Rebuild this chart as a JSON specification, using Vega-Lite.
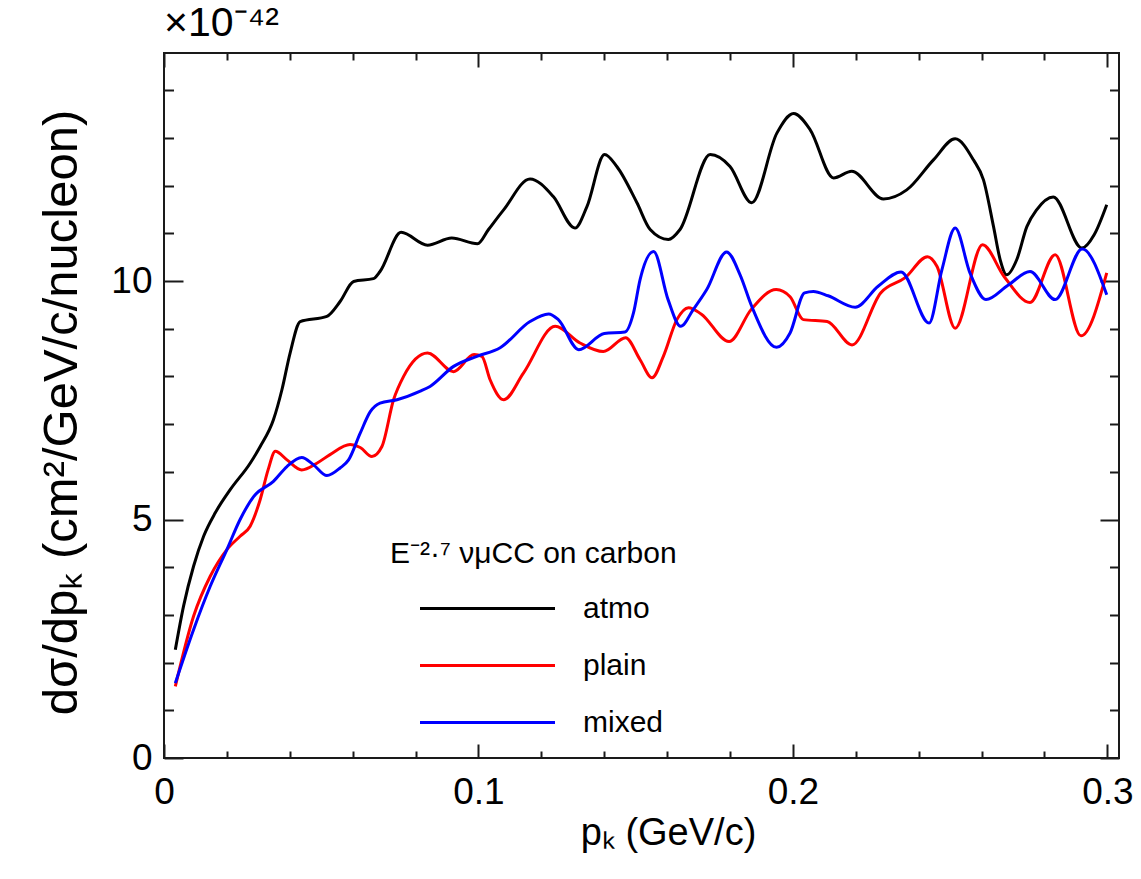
{
"$schema": "https://vega.github.io/schema/vega-lite/v6.json",
"autosize": "none",
"width": 955,
"height": 705,
"padding": {"left": 164, "top": 53, "right": 22, "bottom": 121},
"background": "white",
"config": {
  "font": "Liberation Sans",
  "view": {"stroke": "#1a1a1a", "strokeWidth": 2},
  "axis": {"grid": false, "domain": false, "tickColor": "#1a1a1a", "tickWidth": 2, "labelColor": "#000", "titleColor": "#000", "titleFontWeight": "normal", "labelFlush": false, "labelOverlap": false}
},
"title": {"text": "×10⁻⁴²", "anchor": "start", "frame": "group", "fontSize": 41, "fontWeight": "normal", "offset": 7, "color": "#000"},
"data": {"values": [
{"s":"atmo","p":0.0036,"v":2.27},{"s":"atmo","p":0.0062,"v":3.18},{"s":"atmo","p":0.0094,"v":4.02},{"s":"atmo","p":0.0126,"v":4.65},{"s":"atmo","p":0.0163,"v":5.14},{"s":"atmo","p":0.0210,"v":5.62},{"s":"atmo","p":0.0274,"v":6.18},{"s":"atmo","p":0.0306,"v":6.53},{"s":"atmo","p":0.0348,"v":7.09},{"s":"atmo","p":0.0375,"v":7.72},{"s":"atmo","p":0.0401,"v":8.49},{"s":"atmo","p":0.0433,"v":9.15},{"s":"atmo","p":0.0518,"v":9.26},{"s":"atmo","p":0.0560,"v":9.57},{"s":"atmo","p":0.0603,"v":9.99},{"s":"atmo","p":0.0666,"v":10.05},{"s":"atmo","p":0.0687,"v":10.20},{"s":"atmo","p":0.0754,"v":11.02},{"s":"atmo","p":0.0838,"v":10.75},{"s":"atmo","p":0.0915,"v":10.90},{"s":"atmo","p":0.0997,"v":10.78},{"s":"atmo","p":0.1032,"v":11.08},{"s":"atmo","p":0.1080,"v":11.49},{"s":"atmo","p":0.1164,"v":12.14},{"s":"atmo","p":0.1238,"v":11.77},{"s":"atmo","p":0.1307,"v":11.11},{"s":"atmo","p":0.1345,"v":11.56},{"s":"atmo","p":0.1401,"v":12.65},{"s":"atmo","p":0.1440,"v":12.40},{"s":"atmo","p":0.1504,"v":11.64},{"s":"atmo","p":0.1546,"v":11.08},{"s":"atmo","p":0.1604,"v":10.87},{"s":"atmo","p":0.1641,"v":11.08},{"s":"atmo","p":0.1737,"v":12.65},{"s":"atmo","p":0.1800,"v":12.40},{"s":"atmo","p":0.1869,"v":11.64},{"s":"atmo","p":0.1949,"v":13.10},{"s":"atmo","p":0.2002,"v":13.51},{"s":"atmo","p":0.2055,"v":13.17},{"s":"atmo","p":0.2129,"v":12.16},{"s":"atmo","p":0.2187,"v":12.30},{"s":"atmo","p":0.2288,"v":11.72},{"s":"atmo","p":0.2362,"v":11.91},{"s":"atmo","p":0.2447,"v":12.54},{"s":"atmo","p":0.2516,"v":12.98},{"s":"atmo","p":0.2574,"v":12.54},{"s":"atmo","p":0.2606,"v":12.12},{"s":"atmo","p":0.2638,"v":11.14},{"s":"atmo","p":0.2659,"v":10.45},{"s":"atmo","p":0.2680,"v":10.13},{"s":"atmo","p":0.2712,"v":10.45},{"s":"atmo","p":0.2744,"v":11.14},{"s":"atmo","p":0.2775,"v":11.49},{"s":"atmo","p":0.2828,"v":11.76},{"s":"atmo","p":0.2919,"v":10.69},{"s":"atmo","p":0.2958,"v":10.97},{"s":"atmo","p":0.2998,"v":11.60},
{"s":"plain","p":0.0036,"v":1.50},{"s":"plain","p":0.0094,"v":2.97},{"s":"plain","p":0.0147,"v":3.81},{"s":"plain","p":0.0200,"v":4.37},{"s":"plain","p":0.0242,"v":4.65},{"s":"plain","p":0.0274,"v":4.86},{"s":"plain","p":0.0306,"v":5.42},{"s":"plain","p":0.0331,"v":6.04},{"s":"plain","p":0.0354,"v":6.43},{"s":"plain","p":0.0391,"v":6.25},{"s":"plain","p":0.0438,"v":6.04},{"s":"plain","p":0.0486,"v":6.18},{"s":"plain","p":0.0528,"v":6.36},{"s":"plain","p":0.0592,"v":6.57},{"s":"plain","p":0.0624,"v":6.51},{"s":"plain","p":0.0661,"v":6.32},{"s":"plain","p":0.0693,"v":6.53},{"s":"plain","p":0.0730,"v":7.51},{"s":"plain","p":0.0762,"v":8.00},{"s":"plain","p":0.0838,"v":8.49},{"s":"plain","p":0.0921,"v":8.10},{"s":"plain","p":0.0986,"v":8.46},{"s":"plain","p":0.1011,"v":8.42},{"s":"plain","p":0.1037,"v":7.93},{"s":"plain","p":0.1080,"v":7.51},{"s":"plain","p":0.1143,"v":8.07},{"s":"plain","p":0.1244,"v":9.05},{"s":"plain","p":0.1323,"v":8.70},{"s":"plain","p":0.1397,"v":8.52},{"s":"plain","p":0.1468,"v":8.81},{"s":"plain","p":0.1514,"v":8.35},{"s":"plain","p":0.1552,"v":7.97},{"s":"plain","p":0.1588,"v":8.42},{"s":"plain","p":0.1631,"v":9.19},{"s":"plain","p":0.1668,"v":9.44},{"s":"plain","p":0.1708,"v":9.31},{"s":"plain","p":0.1797,"v":8.73},{"s":"plain","p":0.1867,"v":9.40},{"s":"plain","p":0.1947,"v":9.82},{"s":"plain","p":0.1991,"v":9.67},{"s":"plain","p":0.2033,"v":9.19},{"s":"plain","p":0.2109,"v":9.15},{"s":"plain","p":0.2188,"v":8.66},{"s":"plain","p":0.2279,"v":9.75},{"s":"plain","p":0.2357,"v":10.07},{"s":"plain","p":0.2428,"v":10.51},{"s":"plain","p":0.2458,"v":10.31},{"s":"plain","p":0.2516,"v":9.01},{"s":"plain","p":0.2603,"v":10.76},{"s":"plain","p":0.2672,"v":10.09},{"s":"plain","p":0.2754,"v":9.55},{"s":"plain","p":0.2834,"v":10.55},{"s":"plain","p":0.2916,"v":8.85},{"s":"plain","p":0.2998,"v":10.17},
{"s":"mixed","p":0.0036,"v":1.57},{"s":"mixed","p":0.0094,"v":2.69},{"s":"mixed","p":0.0147,"v":3.60},{"s":"mixed","p":0.0200,"v":4.37},{"s":"mixed","p":0.0242,"v":5.00},{"s":"mixed","p":0.0285,"v":5.48},{"s":"mixed","p":0.0348,"v":5.80},{"s":"mixed","p":0.0391,"v":6.11},{"s":"mixed","p":0.0438,"v":6.30},{"s":"mixed","p":0.0475,"v":6.15},{"s":"mixed","p":0.0518,"v":5.92},{"s":"mixed","p":0.0560,"v":6.08},{"s":"mixed","p":0.0587,"v":6.25},{"s":"mixed","p":0.0624,"v":6.81},{"s":"mixed","p":0.0656,"v":7.26},{"s":"mixed","p":0.0687,"v":7.44},{"s":"mixed","p":0.0741,"v":7.51},{"s":"mixed","p":0.0815,"v":7.69},{"s":"mixed","p":0.0846,"v":7.79},{"s":"mixed","p":0.0921,"v":8.21},{"s":"mixed","p":0.0995,"v":8.42},{"s":"mixed","p":0.1069,"v":8.60},{"s":"mixed","p":0.1164,"v":9.15},{"s":"mixed","p":0.1223,"v":9.31},{"s":"mixed","p":0.1254,"v":9.19},{"s":"mixed","p":0.1319,"v":8.56},{"s":"mixed","p":0.1400,"v":8.90},{"s":"mixed","p":0.1466,"v":8.93},{"s":"mixed","p":0.1493,"v":9.33},{"s":"mixed","p":0.1514,"v":10.03},{"s":"mixed","p":0.1557,"v":10.62},{"s":"mixed","p":0.1603,"v":9.61},{"s":"mixed","p":0.1643,"v":9.05},{"s":"mixed","p":0.1683,"v":9.40},{"s":"mixed","p":0.1726,"v":9.82},{"s":"mixed","p":0.1789,"v":10.61},{"s":"mixed","p":0.1832,"v":10.13},{"s":"mixed","p":0.1869,"v":9.47},{"s":"mixed","p":0.1948,"v":8.61},{"s":"mixed","p":0.1991,"v":8.91},{"s":"mixed","p":0.2037,"v":9.75},{"s":"mixed","p":0.2065,"v":9.78},{"s":"mixed","p":0.2112,"v":9.69},{"s":"mixed","p":0.2198,"v":9.45},{"s":"mixed","p":0.2271,"v":9.89},{"s":"mixed","p":0.2344,"v":10.19},{"s":"mixed","p":0.2433,"v":9.12},{"s":"mixed","p":0.2474,"v":10.24},{"s":"mixed","p":0.2516,"v":11.11},{"s":"mixed","p":0.2563,"v":10.17},{"s":"mixed","p":0.2614,"v":9.61},{"s":"mixed","p":0.2684,"v":9.91},{"s":"mixed","p":0.2754,"v":10.20},{"s":"mixed","p":0.2834,"v":9.61},{"s":"mixed","p":0.2920,"v":10.67},{"s":"mixed","p":0.2998,"v":9.71}
]},
"resolve": {"axis": {"x": "independent", "y": "independent"}},
"layer": [
  {
    "mark": {"type": "line", "interpolate": "monotone", "strokeWidth": 3},
    "encoding": {
      "x": {"field": "p", "type": "quantitative", "scale": {"domain": [0, 0.3037], "nice": false, "zero": false},
            "axis": {"orient": "bottom", "values": [0, 0.1, 0.2, 0.3], "format": "~g", "ticks": false, "labelFontSize": 37, "labelPadding": 16, "title": "pₖ (GeV/c)", "titleFontSize": 38, "titlePadding": 4, "titleX": 504}},
      "y": {"field": "v", "type": "quantitative", "scale": {"domain": [0, 14.78], "nice": false, "zero": false},
            "axis": {"orient": "left", "values": [0, 5, 10], "format": "d", "ticks": false, "labelFontSize": 37, "labelPadding": 12, "title": "dσ/dpₖ (cm²/GeV/c/nucleon)", "titleFontSize": 49, "titlePadding": 24, "titleY": 359}},
      "color": {"field": "s", "type": "nominal",
                "scale": {"domain": ["atmo", "plain", "mixed"], "range": ["#000000", "#ff0000", "#0000ff"]},
                "legend": {"orient": "none", "legendX": 226, "legendY": 486, "padding": 0,
                           "title": "E⁻²·⁷ νμCC on carbon", "titleFontSize": 30, "titleFontWeight": "normal", "titleLimit": 600, "titleColor": "#000", "titlePadding": 21,
                           "labelFontSize": 30, "labelLimit": 300, "labelColor": "#000",
                           "symbolType": "M-4,0H4", "symbolSize": 1139, "symbolStrokeWidth": 3, "symbolOffset": 79, "labelOffset": 77, "rowPadding": 23}}
    }
  },
  {
    "mark": {"type": "line", "opacity": 0},
    "encoding": {
      "x": {"field": "p", "type": "quantitative", "axis": {"orient": "bottom", "values": [0, 0.1, 0.2, 0.3], "labels": false, "title": null, "tickSize": -14}},
      "y": {"field": "v", "type": "quantitative", "axis": {"orient": "left", "values": [0, 5, 10], "labels": false, "title": null, "tickSize": -19}},
      "detail": {"field": "s"}
    }
  },
  {
    "mark": {"type": "line", "opacity": 0},
    "encoding": {
      "x": {"field": "p", "type": "quantitative", "axis": {"orient": "bottom", "values": [0.02, 0.04, 0.06, 0.08, 0.12, 0.14, 0.16, 0.18, 0.22, 0.24, 0.26, 0.28], "labels": false, "title": null, "tickSize": -7}},
      "y": {"field": "v", "type": "quantitative", "axis": {"orient": "left", "values": [1, 2, 3, 4, 6, 7, 8, 9, 11, 12, 13, 14], "labels": false, "title": null, "tickSize": -9.5}},
      "detail": {"field": "s"}
    }
  },
  {
    "mark": {"type": "line", "opacity": 0},
    "encoding": {
      "x": {"field": "p", "type": "quantitative", "axis": {"orient": "top", "values": [0, 0.1, 0.2, 0.3], "labels": false, "title": null, "tickSize": -14}},
      "y": {"field": "v", "type": "quantitative", "axis": {"orient": "right", "values": [0, 5, 10], "labels": false, "title": null, "tickSize": -19}},
      "detail": {"field": "s"}
    }
  },
  {
    "mark": {"type": "line", "opacity": 0},
    "encoding": {
      "x": {"field": "p", "type": "quantitative", "axis": {"orient": "top", "values": [0.02, 0.04, 0.06, 0.08, 0.12, 0.14, 0.16, 0.18, 0.22, 0.24, 0.26, 0.28], "labels": false, "title": null, "tickSize": -7}},
      "y": {"field": "v", "type": "quantitative", "axis": {"orient": "right", "values": [1, 2, 3, 4, 6, 7, 8, 9, 11, 12, 13, 14], "labels": false, "title": null, "tickSize": -9.5}},
      "detail": {"field": "s"}
    }
  }
]
}
